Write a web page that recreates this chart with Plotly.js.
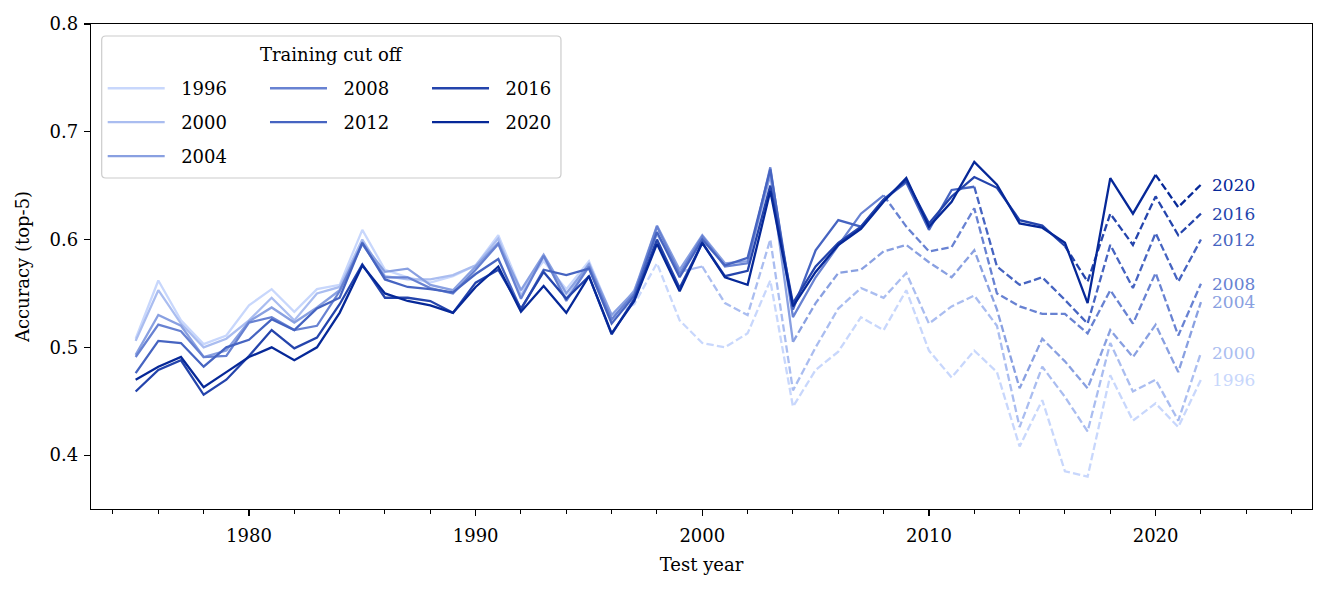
<!DOCTYPE html>
<html><head><meta charset="utf-8">
<script src="https://cdn.plot.ly/plotly-3.0.1.min.js"></script>
<style>html,body{margin:0;padding:0;background:#fff}#chart{width:1328px;height:592px}</style>
</head><body><div id="chart"></div>
<script>
const years = [1975,1976,1977,1978,1979,1980,1981,1982,1983,1984,1985,1986,1987,1988,1989,1990,1991,1992,1993,1994,1995,1996,1997,1998,1999,2000,2001,2002,2003,2004,2005,2006,2007,2008,2009,2010,2011,2012,2013,2014,2015,2016,2017,2018,2019,2020,2021,2022];
const cutoffs = [1996,2000,2004,2008,2012,2016,2020];
const cutoffLabels = ["1996","2000","2004","2008","2012","2016","2020"];
const colors = ["rgb(200,215,252)","rgb(170,189,240)","rgb(137,160,225)","rgb(104,130,210)","rgb(70,100,193)","rgb(36,68,172)","rgb(6,40,152)"];

const acc1996 = [0.508,0.562,0.525,0.503,0.511,0.539,0.554,0.533,0.554,0.558,0.609,0.572,0.565,0.560,0.566,0.576,0.604,0.553,0.580,0.554,0.580,0.530,0.540,0.578,0.525,0.504,0.500,0.513,0.562,0.445,0.479,0.496,0.528,0.516,0.553,0.497,0.472,0.497,0.477,0.408,0.451,0.385,0.380,0.474,0.432,0.448,0.426,0.470];
const acc2000 = [0.506,0.553,0.522,0.500,0.508,0.525,0.546,0.525,0.550,0.556,0.600,0.566,0.563,0.563,0.567,0.576,0.601,0.548,0.584,0.545,0.578,0.525,0.553,0.605,0.570,0.575,0.541,0.530,0.600,0.460,0.500,0.536,0.555,0.546,0.569,0.522,0.538,0.548,0.520,0.426,0.482,0.454,0.422,0.504,0.459,0.470,0.432,0.495];
const acc2004 = [0.493,0.530,0.520,0.491,0.497,0.524,0.537,0.523,0.537,0.553,0.597,0.570,0.573,0.558,0.553,0.575,0.597,0.553,0.586,0.550,0.577,0.530,0.552,0.613,0.572,0.604,0.578,0.580,0.660,0.505,0.541,0.569,0.572,0.589,0.595,0.579,0.565,0.590,0.535,0.462,0.508,0.487,0.462,0.516,0.491,0.521,0.477,0.542];
const acc2008 = [0.491,0.521,0.515,0.491,0.492,0.523,0.528,0.516,0.520,0.552,0.596,0.565,0.565,0.555,0.550,0.572,0.596,0.545,0.585,0.543,0.575,0.526,0.550,0.612,0.568,0.603,0.575,0.578,0.667,0.528,0.565,0.595,0.624,0.641,0.612,0.589,0.593,0.629,0.550,0.538,0.531,0.531,0.513,0.553,0.522,0.569,0.511,0.559];
const acc2012 = [0.476,0.506,0.504,0.482,0.500,0.507,0.526,0.516,0.536,0.546,0.597,0.563,0.556,0.554,0.551,0.568,0.582,0.535,0.572,0.567,0.573,0.522,0.548,0.607,0.565,0.600,0.576,0.583,0.665,0.535,0.590,0.618,0.612,0.637,0.653,0.609,0.646,0.649,0.575,0.558,0.565,0.544,0.522,0.595,0.555,0.606,0.561,0.600];
const acc2016 = [0.459,0.479,0.488,0.456,0.470,0.492,0.516,0.499,0.509,0.540,0.577,0.546,0.546,0.543,0.532,0.560,0.572,0.536,0.570,0.545,0.566,0.512,0.545,0.600,0.555,0.597,0.566,0.571,0.650,0.541,0.575,0.597,0.612,0.637,0.655,0.615,0.640,0.658,0.648,0.618,0.613,0.594,0.561,0.624,0.595,0.640,0.604,0.624];
const acc2020 = [0.470,0.482,0.491,0.463,0.477,0.491,0.500,0.488,0.500,0.532,0.576,0.550,0.543,0.539,0.532,0.556,0.575,0.533,0.557,0.532,0.566,0.513,0.543,0.596,0.552,0.597,0.565,0.558,0.645,0.538,0.570,0.595,0.610,0.635,0.657,0.612,0.635,0.672,0.651,0.615,0.611,0.597,0.541,0.657,0.624,0.660,0.630,0.651];

const xTickVals = [1980,1990,2000,2010,2020];
const xTickText = ["1980","1990","2000","2010","2020"];
const yTickVals = [0.4,0.5,0.6,0.7,0.8];
const yTickText = ["0.4","0.5","0.6","0.7","0.8"];

const series = [acc1996,acc2000,acc2004,acc2008,acc2012,acc2016,acc2020];
const legendOf = ["legend","legend","legend","legend2","legend2","legend3","legend3"];
const FONT = "DejaVu Serif";
const LW = 2.3;
const NB = "\u00a0\u00a0";

const traces = [];
const annotations = [];
series.forEach((vals, i) => {
  const c = cutoffs[i];
  const xs = [], ys = [], xd = [], yd = [];
  years.forEach((yr, k) => {
    if (yr <= c) { xs.push(yr); ys.push(vals[k]); }
    if (yr >= c) { xd.push(yr); yd.push(vals[k]); }
  });
  traces.push({x: xs, y: ys, type: 'scatter', mode: 'lines', name: NB + cutoffLabels[i],
    line: {color: colors[i], width: LW}, legend: legendOf[i], legendgroup: 'g' + i, hoverinfo: 'skip'});
  if (xd.length > 1) {
    traces.push({x: xd, y: yd, type: 'scatter', mode: 'lines', name: cutoffLabels[i] + ' (after)',
      line: {color: colors[i], width: LW, dash: '7.4px,3.2px'}, showlegend: false, legend: legendOf[i], legendgroup: 'g' + i, hoverinfo: 'skip'});
  }
  annotations.push({x: years[years.length - 1], y: vals[vals.length - 1], xref: 'x', yref: 'y',
    text: cutoffLabels[i], showarrow: false, xanchor: 'left', yanchor: 'middle', xshift: 9,
    font: {family: FONT, size: 17, color: colors[i]}});
});

// legend title
annotations.push({x: 0.1966, y: 0.938, xref: 'paper', yref: 'paper', text: 'Training cut off',
  showarrow: false, xanchor: 'center', yanchor: 'middle', font: {family: FONT, size: 18, color: '#000'}});

// rounded legend frame (paper coords)
const bx0 = 0.00876, bx1 = 0.3849, by0 = 0.6825, by1 = 0.9753, rx = 0.0033, ry = 0.0083;
const framePath = `M${bx0+rx},${by1} L${bx1-rx},${by1} Q${bx1},${by1} ${bx1},${by1-ry} L${bx1},${by0+ry} Q${bx1},${by0} ${bx1-rx},${by0} L${bx0+rx},${by0} Q${bx0},${by0} ${bx0},${by0+ry} L${bx0},${by1-ry} Q${bx0},${by1} ${bx0+rx},${by1} Z`;

const legBase = {bgcolor: 'rgba(0,0,0,0)', borderwidth: 0, font: {family: FONT, size: 18, color: '#000'},
  orientation: 'v', yanchor: 'top', xanchor: 'left', tracegroupgap: 7.5, itemwidth: 57, traceorder: 'grouped'};

const layout = {
  width: 1328, height: 592,
  margin: {l: 91, r: 16, t: 24, b: 83},
  paper_bgcolor: '#fff', plot_bgcolor: '#fff',
  font: {family: FONT, size: 18, color: '#000'},
  showlegend: true,
  legend: Object.assign({}, legBase, {x: 0.00958, y: 0.905}),
  legend2: Object.assign({}, legBase, {x: 0.1425, y: 0.905}),
  legend3: Object.assign({}, legBase, {x: 0.2752, y: 0.905}),
  xaxis: {range: [1973.03, 2026.9], tickmode: 'array', tickvals: xTickVals, ticktext: xTickText,
    ticks: 'outside', ticklen: 6, tickwidth: 1.2, tickcolor: '#000', ticklabelstandoff: 4,
    showline: true, linecolor: '#000', linewidth: 1.2, mirror: true, showgrid: false, zeroline: false,
    minor: {tickmode: 'linear', tick0: 1974, dtick: 2, ticks: 'outside', ticklen: 4, tickwidth: 1, tickcolor: '#000', showgrid: false},
    title: {text: 'Test year', font: {family: FONT, size: 18, color: '#000'}, standoff: 13},
    tickfont: {family: FONT, size: 18, color: '#000'}},
  yaxis: {range: [0.35, 0.8], tickmode: 'array', tickvals: yTickVals, ticktext: yTickText,
    ticks: 'outside', ticklen: 6, tickwidth: 1.2, tickcolor: '#000', ticklabelstandoff: 2,
    showline: true, linecolor: '#000', linewidth: 1.2, mirror: true, showgrid: false, zeroline: false,
    title: {text: 'Accuracy (top-5)', font: {family: FONT, size: 18, color: '#000'}, standoff: 15},
    tickfont: {family: FONT, size: 18, color: '#000'}},
  shapes: [{type: 'path', xref: 'paper', yref: 'paper', path: framePath,
    fillcolor: 'rgba(255,255,255,0.8)', line: {color: 'rgb(204,204,204)', width: 1.2}, layer: 'above'}],
  annotations: annotations
};

Plotly.newPlot('chart', traces, layout, {displayModeBar: false, staticPlot: true});
</script></body></html>
